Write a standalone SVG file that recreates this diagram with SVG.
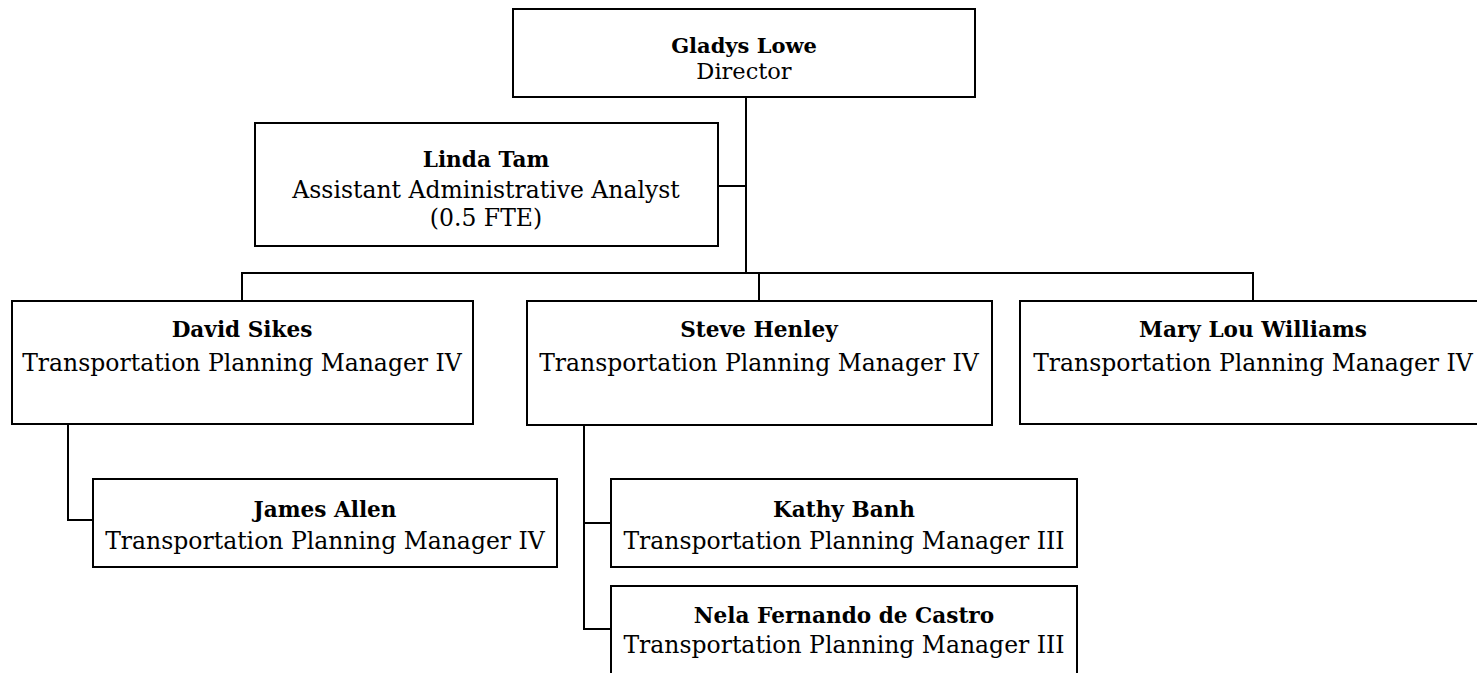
<svg xmlns="http://www.w3.org/2000/svg" width="1477" height="673" viewBox="0 0 1477 673">
<style>
.box{fill:#fff;stroke:#000;stroke-width:2}
.con{fill:none;stroke:#000;stroke-width:2}
.nm{font-family:"DejaVu Serif","Liberation Serif",serif;font-weight:bold;font-size:21.6px;text-anchor:middle;fill:#000}
.tt{font-family:"DejaVu Serif","Liberation Serif",serif;font-size:23.5px;text-anchor:middle;fill:#000}
.top{font-size:21px}
.topt{font-size:22.5px}
</style>
<rect width="1477" height="673" fill="#fff"/>
<g id="connectors">
<path class="con" d="M746 97V273"/>
<path class="con" d="M718 186H746"/>
<path class="con" d="M242 301V273H1253V301"/>
<path class="con" d="M759 273V301"/>
<path class="con" d="M68 424V520H93"/>
<path class="con" d="M584 425V629H611"/>
<path class="con" d="M584 523H611"/>
</g>
<g id="gladys">
<rect class="box" x="513" y="9" width="462" height="88"/>
<text class="nm top" x="744" y="53">Gladys Lowe</text>
<text class="tt topt" x="744" y="79">Director</text>
</g>
<g id="linda">
<rect class="box" x="255" y="123" width="463" height="123"/>
<text class="nm" x="486" y="167">Linda Tam</text>
<text class="tt" x="486" y="198">Assistant Administrative Analyst</text>
<text class="tt" x="486" y="226">(0.5 FTE)</text>
</g>
<g id="david">
<rect class="box" x="12" y="301" width="461" height="123"/>
<text class="nm" x="242" y="337">David Sikes</text>
<text class="tt" x="242" y="371">Transportation Planning Manager IV</text>
</g>
<g id="steve">
<rect class="box" x="527" y="301" width="465" height="124"/>
<text class="nm" x="759" y="337">Steve Henley</text>
<text class="tt" x="759" y="371">Transportation Planning Manager IV</text>
</g>
<g id="mary">
<rect class="box" x="1020" y="301" width="470" height="123"/>
<text class="nm" x="1253" y="337">Mary Lou Williams</text>
<text class="tt" x="1253" y="371">Transportation Planning Manager IV</text>
</g>
<g id="james">
<rect class="box" x="93" y="479" width="464" height="88"/>
<text class="nm" x="325" y="517">James Allen</text>
<text class="tt" x="325" y="549">Transportation Planning Manager IV</text>
</g>
<g id="kathy">
<rect class="box" x="611" y="479" width="466" height="88"/>
<text class="nm" x="844" y="517">Kathy Banh</text>
<text class="tt" x="844" y="549">Transportation Planning Manager III</text>
</g>
<g id="nela">
<rect class="box" x="611" y="586" width="466" height="100"/>
<text class="nm" x="844" y="623">Nela Fernando de Castro</text>
<text class="tt" x="844" y="653">Transportation Planning Manager III</text>
</g>
</svg>
